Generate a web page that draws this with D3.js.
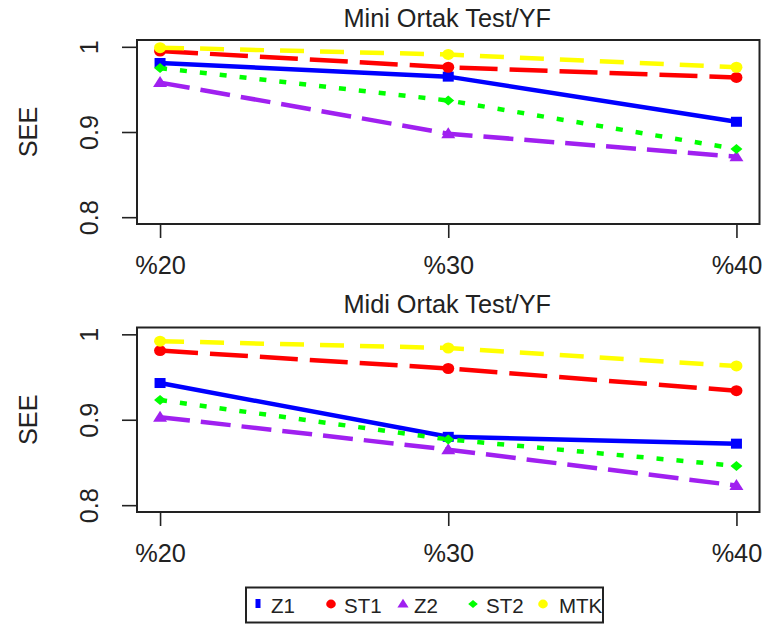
<!DOCTYPE html>
<html><head><meta charset="utf-8">
<script src="https://cdn.jsdelivr.net/npm/d3@7"></script>
<style>
html,body{margin:0;padding:0;background:#fff;}
svg{display:block;}
text{font-family:"Liberation Sans",Arial,sans-serif;fill:#222;}
</style></head>
<body>
<script>
// ---- data ----
const categories = ["%20", "%30", "%40"];
const seriesNames = ["Z1", "ST1", "Z2", "ST2", "MTK"];
const panelTitles = ["Mini Ortak Test/YF", "Midi Ortak Test/YF"];
const yTicks = [0.8, 0.9, 1];
const yTickLabels = ["0.8", "0.9", "1"];
// Mini panel
const miniZ1  = [0.981, 0.965, 0.912];
const miniST1 = [0.995, 0.976, 0.964];
const miniZ2  = [0.958, 0.898, 0.871];
const miniST2 = [0.975, 0.937, 0.880];
const miniMTK = [0.999, 0.991, 0.976];
// Midi panel
const midiZ1  = [0.943, 0.880, 0.872];
const midiST1 = [0.981, 0.960, 0.934];
const midiZ2  = [0.903, 0.865, 0.823];
const midiST2 = [0.923, 0.877, 0.846];
const midiMTK = [0.992, 0.984, 0.963];

const colors = {Z1:"#0000FF", ST1:"#FF0000", Z2:"#A020F0", ST2:"#00FF00", MTK:"#FFFF00"};
const dashes = {Z1:null, ST1:"38,12", Z2:"30,11", ST2:"7,13", MTK:"24,16"};
const shapes = {Z1:"square", ST1:"circle", Z2:"triangle", ST2:"diamond", MTK:"circle"};

const panels = [
  {title: panelTitles[0], data: {Z1:miniZ1, ST1:miniST1, Z2:miniZ2, ST2:miniST2, MTK:miniMTK},
   top:40, bottom:224, titleY:27},
  {title: panelTitles[1], data: {Z1:midiZ1, ST1:midiST1, Z2:midiZ2, ST2:midiST2, MTK:midiMTK},
   top:327.5, bottom:512, titleY:313}
];

const W = 766, H = 624;
const svg = d3.select("body").append("svg").attr("width", W).attr("height", H);
const left = 137, right = 759.5;
const x = d3.scaleLinear().domain([0.92, 3.08]).range([left, right]);
const FS = 25.3;

function marker(g, shape, cx, cy, color, s) {
  if (shape === "square") {
    g.append("rect").attr("x", cx - 5.5*s).attr("y", cy - 5*s).attr("width", 11*s).attr("height", 10*s).attr("fill", color);
  } else if (shape === "circle") {
    g.append("ellipse").attr("cx", cx).attr("cy", cy).attr("rx", 6*s).attr("ry", 5.5*s).attr("fill", color);
  } else if (shape === "triangle") {
    g.append("path").attr("d", `M${cx},${cy-6.5*s}L${cx+7*s},${cy+4.5*s}L${cx-7*s},${cy+4.5*s}Z`).attr("fill", color);
  } else if (shape === "diamond") {
    g.append("path").attr("d", `M${cx},${cy-5*s}L${cx+6*s},${cy}L${cx},${cy+5*s}L${cx-6*s},${cy}Z`).attr("fill", color);
  }
}

panels.forEach(p => {
  const y = d3.scaleLinear().domain([0.792, 1.008]).range([p.bottom, p.top]);
  const g = svg.append("g");

  // title
  g.append("text").attr("x", (left + right) / 2 - 1).attr("y", p.titleY)
    .attr("text-anchor", "middle").attr("font-size", FS).text(p.title);

  // y label
  g.append("text").attr("transform", `translate(37,${(p.top + p.bottom) / 2}) rotate(-90)`)
    .attr("text-anchor", "middle").attr("font-size", FS).text("SEE");

  // y axis
  const ya = g.append("g").attr("transform", `translate(${left},0)`)
    .call(d3.axisLeft(y).tickValues(yTicks).tickSize(15).tickFormat((d, i) => yTickLabels[i]));
  ya.select(".domain").remove();
  ya.selectAll("line").attr("stroke", "#222").attr("stroke-width", 1.6);
  ya.selectAll("text").attr("x", null).attr("dy", null).attr("y", null)
    .attr("transform", "translate(-39,0) rotate(-90)").attr("text-anchor", "middle")
    .attr("font-size", FS).attr("font-family", "Liberation Sans, Arial, sans-serif").attr("fill", "#222");

  // x axis
  const xa = g.append("g").attr("transform", `translate(0,${p.bottom})`)
    .call(d3.axisBottom(x).tickValues([1, 2, 3]).tickSize(14).tickFormat((d, i) => categories[i]));
  xa.select(".domain").remove();
  xa.selectAll("line").attr("stroke", "#222").attr("stroke-width", 1.6);
  xa.selectAll("text").attr("dy", null).attr("y", 50)
    .attr("font-size", FS).attr("font-family", "Liberation Sans, Arial, sans-serif").attr("fill", "#222");

  // lines
  const line = d3.line().x((d, i) => x(i + 1)).y(d => y(d));
  seriesNames.forEach(name => {
    const vals = p.data[name];
    g.append("path").attr("d", line(vals)).attr("fill", "none")
      .attr("stroke", colors[name]).attr("stroke-width", 4.5)
      .attr("stroke-dasharray", dashes[name]);
    vals.forEach((v, i) => marker(g, shapes[name], x(i + 1), y(v), colors[name], 1));
  });

  // box
  g.append("rect").attr("x", left).attr("y", p.top).attr("width", right - left).attr("height", p.bottom - p.top)
    .attr("fill", "none").attr("stroke", "#222").attr("stroke-width", 2);
});

// legend
const lg = svg.append("g");
lg.append("rect").attr("x", 246).attr("y", 587.5).attr("width", 357).attr("height", 35)
  .attr("fill", "#fff").attr("stroke", "#222").attr("stroke-width", 2);
const legMarkX = [258, 331, 403, 473, 543];
const legTextX = [271, 344, 414, 486, 559];
seriesNames.forEach((name, i) => {
  const cy = 604;
  if (shapes[name] === "square") {
    lg.append("rect").attr("x", legMarkX[i] - 2.5).attr("y", cy - 5).attr("width", 5).attr("height", 9).attr("fill", colors[name]);
  } else {
    marker(lg, shapes[name], legMarkX[i], cy, colors[name], 0.8);
  }
  lg.append("text").attr("x", legTextX[i]).attr("y", 613).attr("font-size", 20.5).text(name);
});
</script>
</body></html>
